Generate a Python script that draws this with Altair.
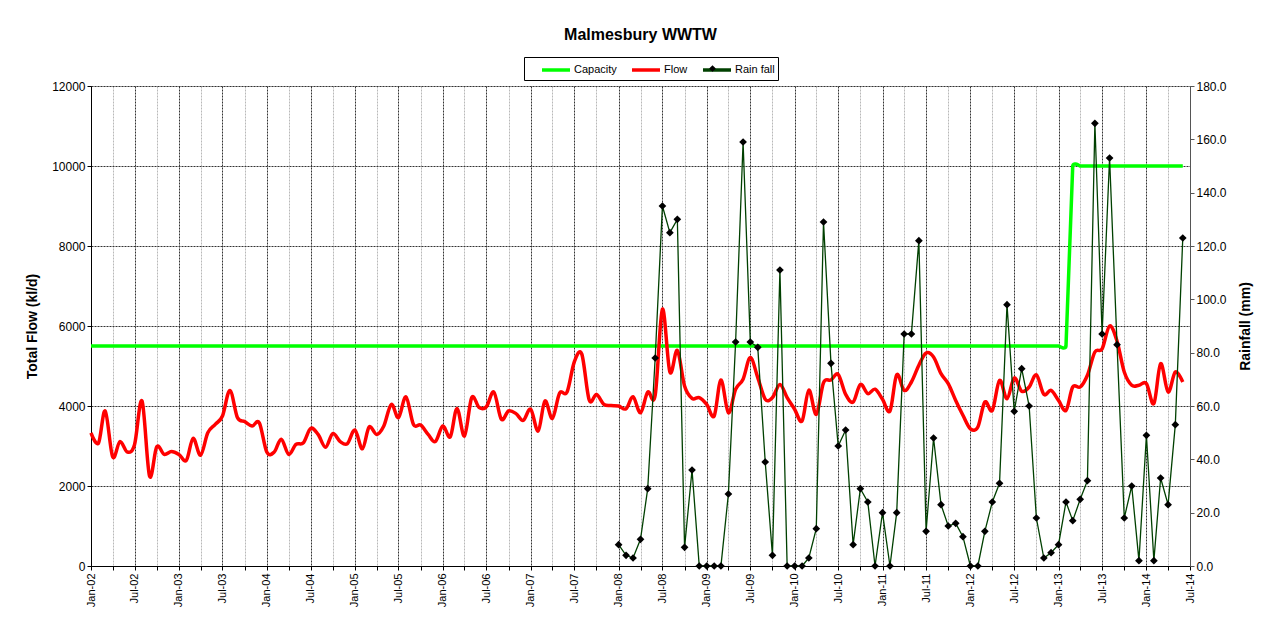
import altair as alt
import pandas as pd

FONT = "Liberation Sans"

# monthly categories Jan-02 .. Jun-14
months = list(pd.date_range("2002-01-01", periods=150, freq="MS"))

flow = [
    3330, 3070, 3875, 2730, 3110, 2850, 3040, 4125, 2250, 2980, 2790, 2860,  # 2002
    2790, 2640, 3190, 2770, 3330, 3540, 3750, 4390, 3710, 3610, 3500, 3580,  # 2003
    2850, 2850, 3170, 2790, 3040, 3080, 3440, 3290, 2970, 3310, 3110, 3060,  # 2004
    3400, 2930, 3475, 3290, 3500, 4040, 3710, 4230, 3540, 3525, 3290, 3110,  # 2005
    3500, 3230, 3940, 3250, 4210, 3960, 3980, 4350, 3670, 3875, 3810, 3640,  # 2006
    3920, 3375, 4125, 3690, 4320, 4350, 5100, 5300, 4150, 4290, 4040, 4010,  # 2007
    4000, 3930, 4230, 3830, 4350, 4270, 6420, 4850, 5390, 4500, 4190, 4210,  # 2008
    4040, 3750, 4650, 3830, 4420, 4670, 5210, 4710, 4170, 4210, 4540, 4210,  # 2009
    3920, 3625, 4400, 3790, 4580, 4650, 4790, 4290, 4100, 4540, 4310, 4420,  # 2010
    4170, 3875, 4780, 4390, 4600, 5020, 5325, 5225, 4810, 4560, 4140, 3770,  # 2011
    3430, 3475, 4100, 3890, 4640, 4180, 4700, 4370, 4475, 4780, 4290, 4390,  # 2012
    4140, 3890, 4475, 4475, 4770, 5350, 5430, 6000, 5620, 4850, 4520, 4520,  # 2013
    4560, 4060, 5060, 4350, 4850, 4600,                                      # 2014
]

capacity = [
    5500, 5500, 5500, 5500, 5500, 5500, 5500, 5500, 5500, 5500, 5500, 5500,  # 2002
    5500, 5500, 5500, 5500, 5500, 5500, 5500, 5500, 5500, 5500, 5500, 5500,  # 2003
    5500, 5500, 5500, 5500, 5500, 5500, 5500, 5500, 5500, 5500, 5500, 5500,  # 2004
    5500, 5500, 5500, 5500, 5500, 5500, 5500, 5500, 5500, 5500, 5500, 5500,  # 2005
    5500, 5500, 5500, 5500, 5500, 5500, 5500, 5500, 5500, 5500, 5500, 5500,  # 2006
    5500, 5500, 5500, 5500, 5500, 5500, 5500, 5500, 5500, 5500, 5500, 5500,  # 2007
    5500, 5500, 5500, 5500, 5500, 5500, 5500, 5500, 5500, 5500, 5500, 5500,  # 2008
    5500, 5500, 5500, 5500, 5500, 5500, 5500, 5500, 5500, 5500, 5500, 5500,  # 2009
    5500, 5500, 5500, 5500, 5500, 5500, 5500, 5500, 5500, 5500, 5500, 5500,  # 2010
    5500, 5500, 5500, 5500, 5500, 5500, 5500, 5500, 5500, 5500, 5500, 5500,  # 2011
    5500, 5500, 5500, 5500, 5500, 5500, 5500, 5500, 5500, 5500, 5500, 5500,  # 2012
    5500, 5500, 10000, 10000, 10000, 10000, 10000, 10000, 10000, 10000, 10000, 10000,  # 2013
    10000, 10000, 10000, 10000, 10000, 10000,                                # 2014
]

# rainfall Jan-08 .. Jun-14 (mm)
rain = [
    8, 4, 3, 10, 29, 78, 135, 125, 130, 7, 36, 0,        # 2008
    0, 0, 0, 27, 84, 159, 84, 82, 39, 4, 111, 0,         # 2009
    0, 0, 3, 14, 129, 76, 45, 51, 8, 29, 24, 0,          # 2010
    20, 0, 20, 87, 87, 122, 13, 48, 23, 15, 16, 11,      # 2011
    0, 0, 13, 24, 31, 98, 58, 74, 60, 18, 3, 5,          # 2012
    8, 24, 17, 25, 32, 166, 87, 153, 83, 18, 30, 2,      # 2013
    49, 2, 33, 23, 53, 123,                              # 2014
]
rain_months = months[72:]

series_names = ["Capacity", "Flow", "Rain fall"]
series_colors = ["#00FF00", "#FF0000", "#004000"]
flow_ticks = [0, 2000, 4000, 6000, 8000, 10000, 12000]
rain_ticks = [0, 20, 40, 60, 80, 100, 120, 140, 160, 180]

df_cap = pd.DataFrame({"date": months, "value": capacity, "series": ["Capacity"] * len(capacity)})
df_flow = pd.DataFrame({"date": months, "value": flow, "series": ["Flow"] * len(flow)})
df_rain = pd.DataFrame({"date": rain_months, "rain": rain, "series": ["Rain fall"] * len(rain)})

xvals = []
for y in range(2002, 2015):
    for m in (1, 4, 7, 10):
        if y == 2014 and m > 7:
            continue
        xvals.append(alt.DateTime(year=y, month=m, date=1))

xaxis = alt.Axis(
    values=xvals,
    labelExpr="month(datum.value) % 6 == 0 ? timeFormat(datum.value, '%b-%y') : ''",
    labelAngle=270, labelAlign="right", labelBaseline="middle",
    labelFontSize=11, labelPadding=3,
    grid=True,
    gridColor={"condition": {"test": "month(datum.value) % 6 == 0", "value": "#333333"}, "value": "#b8b8b8"},
    gridDash=[2, 1],
    tickSize=4, domainColor="#000000", tickColor="#000000",
    title=None,
)
xscale = alt.Scale(domain=[alt.DateTime(year=2002, month=1, date=1), alt.DateTime(year=2014, month=7, date=1)])
x = alt.X("date:T", scale=xscale, axis=xaxis)

color = alt.Color(
    "series:N",
    scale=alt.Scale(domain=series_names, range=series_colors),
    legend=alt.Legend(
        orient="none", legendX=433, legendY=-29, direction="horizontal", columns=3,
        title=None, symbolType="M0.625,0L4.125,0", symbolSize=256, symbolStrokeWidth=3.5,
        labelFont=FONT, labelFontSize=11, labelColor="#000000", labelOffset=27,
        strokeColor="#000000", padding=3, columnPadding=-3,
    ),
)

left_y = alt.Y("value:Q", scale=alt.Scale(domain=[0, 12000], nice=False),
               axis=alt.Axis(orient="left", values=flow_ticks, format="d", title="Total Flow (kl/d)",
                             grid=True, gridColor="#333333", gridDash=[2, 1],
                             titleFontSize=14, titleFontWeight="bold", titlePadding=12,
                             labelFontSize=12, tickSize=4, domainColor="#000000", tickColor="#000000"))

cap_line = alt.Chart(df_cap).mark_line(interpolate="cardinal", tension=0.85, strokeWidth=3.5).encode(
    x=x, y=left_y, color=color)
flow_line = alt.Chart(df_flow).mark_line(interpolate="cardinal", strokeWidth=3.5).encode(
    x=x, y=left_y, color=color)

rain_y = alt.Y("rain:Q", scale=alt.Scale(domain=[0, 180], nice=False),
               axis=alt.Axis(orient="right", values=rain_ticks, format=".1f", title="Rainfall (mm)",
                             grid=False, titleFontSize=14, titleFontWeight="bold",
                             titleAngle=270, titleBaseline="top", titlePadding=12,
                             labelFontSize=12, tickSize=4, domainColor="#555555", tickColor="#555555"))

rain_line = alt.Chart(df_rain).mark_line(strokeWidth=1.3).encode(x=x, y=rain_y, color=color)
rain_pts = alt.Chart(df_rain).mark_point(filled=True, size=60, color="#000000", opacity=1).encode(
    x=x, y=rain_y,
    shape=alt.Shape(
        "series:N",
        scale=alt.Scale(domain=["Rain fall"], range=["diamond"]),
        legend=alt.Legend(orient="none", legendX=618, legendY=-21, title=None,
                          labelExpr="''", labelOffset=0, labelFontSize=1, padding=0,
                          symbolSize=45, symbolFillColor="#000000", symbolStrokeWidth=0),
    ),
)

chart = alt.layer(alt.layer(cap_line, flow_line), alt.layer(rain_line, rain_pts)).resolve_scale(
    y="independent"
).properties(
    width=1099, height=480,
    autosize=alt.AutoSizeParams(type="none"),
    padding={"left": 83, "top": 78, "right": 72, "bottom": 56},
    title=alt.TitleParams("Malmesbury WWTW", font=FONT, fontSize=16, fontWeight="bold",
                          anchor="middle", frame="group", offset=14, color="#000000"),
).configure_view(stroke="#000000", strokeWidth=1.5).configure_axis(
    labelFont=FONT, titleFont=FONT, labelColor="#000000", titleColor="#000000"
).configure(background="#ffffff")

chart.save("out.html", embed_options={"renderer": "svg", "actions": False})
